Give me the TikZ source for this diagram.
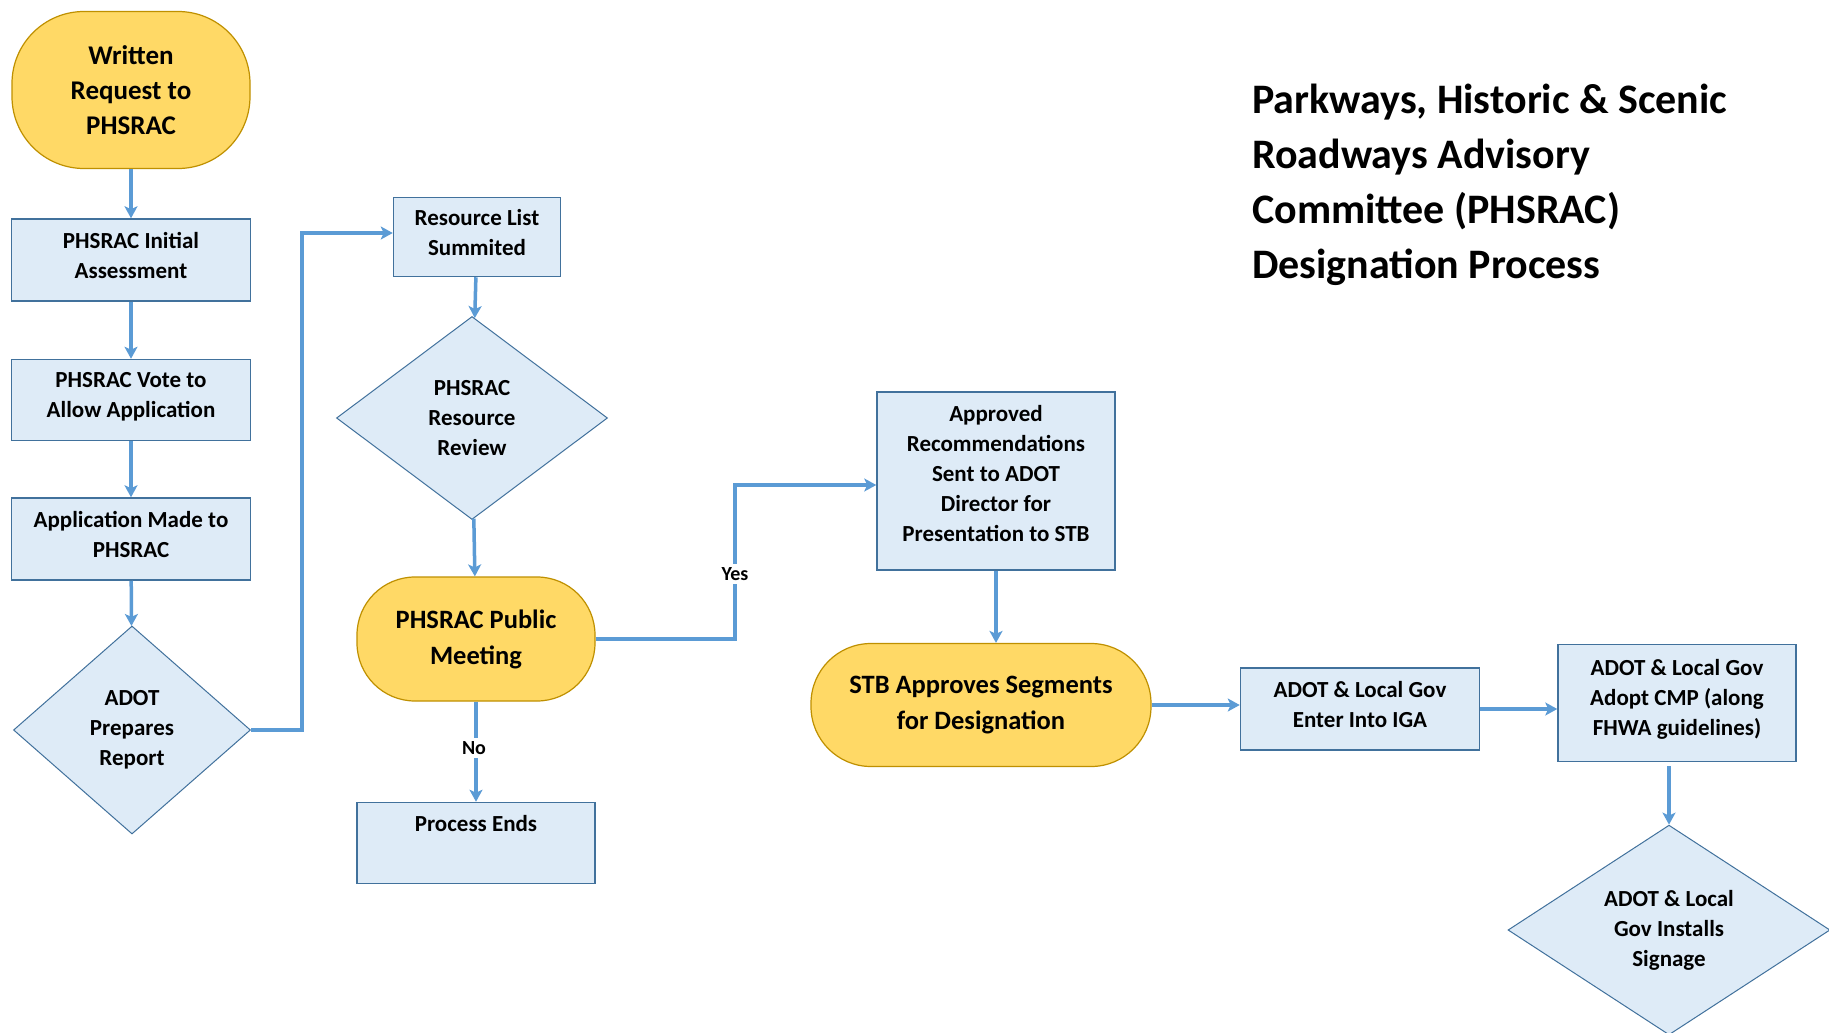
\documentclass[tikz,border=0pt]{standalone}
\usepackage{fontspec}
\setmainfont{Carlito}
\usetikzlibrary{shapes.geometric,arrows.meta}
\definecolor{arrowblue}{HTML}{5B9BD5}
\definecolor{boxfill}{HTML}{DEEBF7}
\definecolor{boxline}{HTML}{41719C}
\definecolor{termfill}{HTML}{FFD966}
\definecolor{termline}{HTML}{BF9000}
\begin{document}
\begin{tikzpicture}[x=1pt,y=-1pt,
 box/.style={draw=boxline, line width=1.5pt, fill=boxfill, rectangle, align=center,
   font=\fontsize{23}{30}\selectfont\bfseries, inner sep=2pt},
 term/.style={draw=termline, line width=1.2pt, fill=termfill, rectangle, rounded corners=#1,
   align=center, inner sep=2pt},
 term/.default=55pt,
 dec/.style={draw=boxline, line width=1pt, fill=boxfill, diamond, align=center, inner sep=0pt,
   font=\fontsize{23}{30}\selectfont\bfseries},
 conn/.style={draw=arrowblue, line width=3.5pt, -{Stealth[length=12pt,width=13pt,inset=3pt]}},
 lbl/.style={fill=white, font=\fontsize{20}{22}\selectfont\bfseries, inner sep=3pt}
]
\useasboundingbox[fill=white] (0,0) rectangle (1829,1033);

% title
\node[anchor=north west, align=left, inner sep=0pt,
  font=\fontsize{42}{55}\selectfont\bfseries] (title) at (1252,84)
  {Parkways, Historic \& Scenic\\Roadways Advisory\\Committee (PHSRAC)\\Designation Process};

% nodes
\node[term=72pt, minimum width=238pt, minimum height=157pt,
  font=\fontsize{27}{35}\selectfont\bfseries] (w) at (131,90) {Written\\Request to\\PHSRAC};
\node[box, minimum width=239pt, minimum height=82pt, text depth=10pt] (init) at (131,260) {PHSRAC Initial\\Assessment};
\node[box, minimum width=239pt, minimum height=81pt, text depth=10pt] (vote) at (131,400) {PHSRAC Vote to\\Allow Application};
\node[box, minimum width=239pt, minimum height=82pt, text depth=10pt] (app) at (131,539) {Application Made to\\PHSRAC};
\node[dec, minimum width=237pt, minimum height=208pt] (adot) at (132,730) {ADOT\\Prepares\\Report};

\node[box, minimum width=167pt, minimum height=79pt, text depth=10pt] (res) at (477,237) {Resource List\\Summited};
\node[dec, minimum width=271pt, minimum height=203pt] (rev) at (472,418) {PHSRAC\\Resource\\Review};
\node[term=58pt, minimum width=238pt, minimum height=124pt,
  font=\fontsize{26.5}{36}\selectfont\bfseries] (meet) at (476,639) {PHSRAC Public\\Meeting};
\node[box, minimum width=238pt, minimum height=81pt, inner sep=4pt,
  text height=25pt, text depth=48pt] (proc) at (476,843) {Process Ends};

\node[box, minimum width=238pt, minimum height=178pt, text depth=16pt] (appr) at (996,481)
  {Approved\\Recommendations\\Sent to ADOT\\Director for\\Presentation to STB};
\node[term=60pt, minimum width=340pt, minimum height=123pt,
  font=\fontsize{26.5}{36}\selectfont\bfseries] (stb) at (981,705) {STB Approves Segments\\for Designation};
\node[box, minimum width=239pt, minimum height=82pt, text depth=10pt] (iga) at (1360,709) {ADOT \& Local Gov\\Enter Into IGA};
\node[box, minimum width=238pt, minimum height=117pt, text depth=12pt] (cmp) at (1677,703)
  {ADOT \& Local Gov\\Adopt CMP (along\\FHWA guidelines)};
\node[dec, minimum width=322pt, minimum height=204pt] (sig) at (1669,930)
  {ADOT \& Local\\Gov Installs\\Signage};

% connectors
\draw[conn] (w) -- (init);
\draw[conn] (init) -- (vote);
\draw[conn] (vote) -- (app);
\draw[conn] (app) -- (adot);
\coordinate (bendA) at (302,730);
\draw[conn] (adot.east) -- (bendA) |- ([yshift=4pt]res.west);
\draw[conn] (res) -- (rev);
\draw[conn] (rev) -- (meet);
\coordinate (bendY) at (735,639);
\draw[conn] (meet.east) -- (bendY) |- ([yshift=-4pt]appr.west);
\node[lbl] (yes) at (735,574) {Yes};
\draw[conn] (meet) -- (proc);
\node[lbl] (no) at (474,748) {No};
\draw[conn] (appr.south) -- (appr.south |- stb.north);
\draw[conn] (stb.east) -- (stb.east -| iga.west);
\draw[conn] (iga.east) -- (iga.east -| cmp.west);
\draw[conn] ([yshift=-4pt]cmp.south -| sig.north) -- (sig.north);
\end{tikzpicture}
\end{document}
